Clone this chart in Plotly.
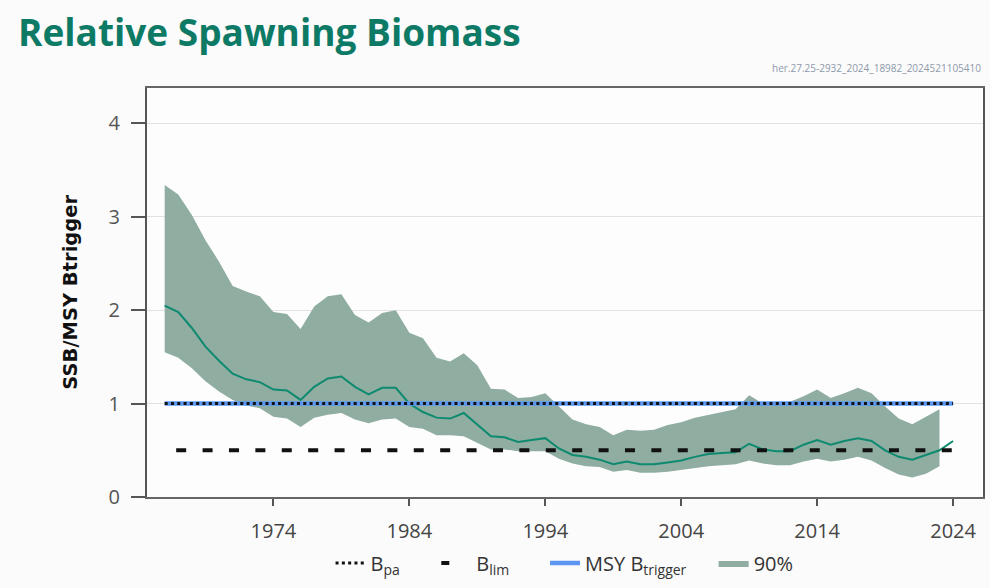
import plotly.graph_objects as go

years = list(range(1966, 2025))
median = [2.05, 1.98, 1.81, 1.61, 1.46, 1.32, 1.26, 1.23, 1.15, 1.14,
          1.04, 1.18, 1.27, 1.29, 1.18, 1.10, 1.17, 1.17, 1.00, 0.91,
          0.85, 0.84, 0.90, 0.77, 0.65, 0.64, 0.59, 0.61, 0.63, 0.52,
          0.45, 0.43, 0.40, 0.35, 0.38, 0.35, 0.35, 0.37, 0.39, 0.43,
          0.46, 0.47, 0.48, 0.57, 0.51, 0.49, 0.49, 0.56, 0.61, 0.56,
          0.60, 0.63, 0.60, 0.50, 0.43, 0.40, 0.45, 0.50, 0.60]

band_years = list(range(1966, 2024))
upper = [3.34, 3.24, 3.02, 2.75, 2.52, 2.26, 2.20, 2.15, 1.98, 1.96,
         1.80, 2.04, 2.15, 2.17, 1.95, 1.87, 1.97, 2.00, 1.76, 1.70,
         1.49, 1.45, 1.54, 1.41, 1.16, 1.15, 1.06, 1.07, 1.11, 0.97,
         0.83, 0.78, 0.75, 0.66, 0.72, 0.71, 0.72, 0.77, 0.80, 0.85,
         0.88, 0.91, 0.94, 1.09, 1.00, 0.99, 1.02, 1.08, 1.15, 1.06,
         1.11, 1.17, 1.11, 0.97, 0.84, 0.78, 0.86, 0.94]
lower = [1.55, 1.49, 1.38, 1.24, 1.13, 1.04, 0.98, 0.95, 0.86, 0.84,
         0.75, 0.85, 0.88, 0.90, 0.83, 0.79, 0.83, 0.84, 0.75, 0.73,
         0.66, 0.66, 0.65, 0.58, 0.51, 0.51, 0.49, 0.49, 0.49, 0.41,
         0.36, 0.33, 0.32, 0.27, 0.29, 0.26, 0.26, 0.27, 0.29, 0.31,
         0.33, 0.34, 0.35, 0.39, 0.36, 0.34, 0.34, 0.38, 0.41, 0.38,
         0.40, 0.43, 0.39, 0.31, 0.24, 0.21, 0.25, 0.33]

ref_years = [1966, 2024]
msy_btrigger = [1.0, 1.0]
bpa = [1.0, 1.0]
blim = [0.5, 0.5]

x_ticks = [1974, 1984, 1994, 2004, 2014, 2024]
y_ticks = [0, 1, 2, 3, 4]

BAND = "#8fada1"
LINE = "#0e8a70"
BLUE = "#5b97f2"
TITLE = "#0d7a66"
FONT = "Open Sans"

fig = go.Figure()

fig.add_trace(go.Scatter(x=band_years, y=lower, mode="lines", line=dict(width=0),
                         showlegend=False, hoverinfo="skip"))
fig.add_trace(go.Scatter(x=band_years, y=upper, mode="lines", line=dict(width=0),
                         fill="tonexty", fillcolor=BAND, name="90%",
                         legend="legend4"))
fig.add_trace(go.Scatter(x=years, y=median, mode="lines",
                         line=dict(color=LINE, width=2), showlegend=False))
fig.add_trace(go.Scatter(x=ref_years, y=msy_btrigger, mode="lines",
                         line=dict(color=BLUE, width=4.5),
                         name="MSY B<sub>trigger</sub>", legend="legend3"))
fig.add_trace(go.Scatter(x=ref_years, y=bpa, mode="lines",
                         line=dict(color="#111111", width=3, dash="3px,3.3px"),
                         name="B<sub>pa</sub>", legend="legend"))
fig.add_trace(go.Scatter(x=ref_years, y=blim, mode="lines",
                         line=dict(color="#111111", width=4,
                                   dash="0px,11.5px,10px,4.9px"),
                         showlegend=False))
# legend-only entry for Blim (single short dash, as in the reference key)
fig.add_trace(go.Scatter(x=[None], y=[None], mode="lines",
                         line=dict(color="#111111", width=4, dash="8px,40px"),
                         name="B<sub>lim</sub>", legend="legend2"))

W, H = 990, 588
PL, PR, PT, PB = 147, 985, 88, 497   # plot-area edges in page pixels
PW, PH = PR - PL, PB - PT
LEG_Y = (PB - 563) / PH


def leg(xpage):
    return dict(orientation="h", x=(xpage - PL) / PW, xanchor="left",
                y=LEG_Y, yanchor="middle", font=dict(size=20, color="#333333"),
                bgcolor="rgba(0,0,0,0)", borderwidth=0)


fig.update_layout(
    width=W, height=H,
    margin=dict(l=PL, r=W - PR, t=PT, b=H - PB),
    paper_bgcolor="#fbfbfb",
    plot_bgcolor="#fdfdfd",
    font=dict(family=FONT, color="#444444"),
    title=dict(text="<b>Relative Spawning Biomass</b>",
               font=dict(family=FONT, size=37, color=TITLE),
               x=18 / W, xanchor="left", xref="container",
               y=1 - 33 / H, yanchor="middle", yref="container"),
    showlegend=True,
    legend=leg(331),
    legend2=leg(437),
    legend3=leg(546),
    legend4=leg(715),
    xaxis=dict(range=[1964.7, 2026.2], tickvals=x_ticks,
               ticktext=[str(v) for v in x_ticks],
               showgrid=False, zeroline=False,
               showline=True, linecolor="#666666", linewidth=1.5, mirror=True,
               ticks="outside", ticklen=7, tickcolor="#555555", tickwidth=1.5,
               ticklabelstandoff=8,
               tickfont=dict(size=20, color="#444444")),
    yaxis=dict(range=[0, 4.38], tickvals=y_ticks,
               showgrid=True, gridcolor="#e2e2e2", gridwidth=1,
               zeroline=False,
               showline=True, linecolor="#555555", linewidth=2, mirror=True,
               ticks="outside", ticklen=14, tickcolor="#555555", tickwidth=2,
               ticklabelstandoff=7,
               tickfont=dict(size=20, color="#555555")),
)

fig.add_annotation(text="<b>SSB/MSY Btrigger</b>", xref="paper", yref="paper",
                   x=(70 - PL) / PW, y=0.5, xanchor="center", yanchor="middle",
                   textangle=-90, showarrow=False,
                   font=dict(family="DejaVu Sans", size=19.5, color="#111111"))
fig.add_annotation(text="her.27.25-2932_2024_18982_2024521105410",
                   xref="paper", yref="paper", x=(985 - PL) / PW,
                   y=(PB - 68) / PH,
                   xanchor="right", yanchor="middle", showarrow=False,
                   font=dict(family=FONT, size=10, color="#8e99aa"))

# remove the browser's default 8px body margin so the figure fills the window
fig.write_html("out.html", config={"displayModeBar": False},
               post_script="document.body.style.margin='0';")
